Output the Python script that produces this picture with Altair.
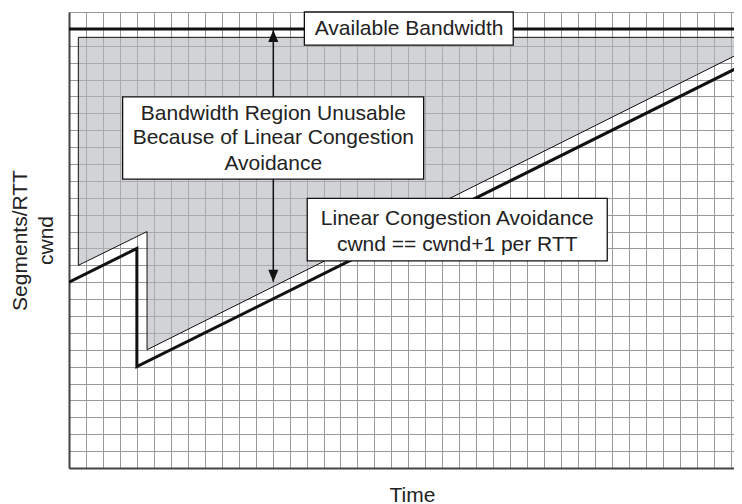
import altair as alt
import pandas as pd

# ---- data (in grid-cell units) ----
cwnd_time = [0, 4, 4.0001, 39.66]
cwnd_value = [11, 13, 6, 23.83]

region_time = [0.55, 4.6, 4.6001, 39.42]
region_low = [12.0, 14.0, 7.0, 24.5]
region_high = [25.5, 25.5, 25.5, 25.5]

bandwidth_time = [0, 39.66]
bandwidth_value = [26, 26]

arrow_x = [12.04]
arrow_low = [11.03]
arrow_high = [25.93]

box_labels = ["Available Bandwidth", "Bandwidth Region", "Linear Congestion"]
box_x = [13.87, 3.16, 14.04]
box_x2 = [26.18, 20.9, 31.72]
box_y = [25.04, 17.11, 12.26]
box_y2 = [27.0, 21.98, 15.97]

text_lines = ["Available Bandwidth",
              "Bandwidth Region Unusable",
              "Because of Linear Congestion",
              "Avoidance",
              "Linear Congestion Avoidance",
              "cwnd == cwnd+1 per RTT"]
text_x = [20.04, 12.04, 12.04, 12.04, 22.88, 22.88]
text_y = [26.0, 20.94, 19.52, 18.0, 14.72, 13.2]

x_ticks = list(range(0, 40))
y_ticks = list(range(0, 28))

FONT = "Liberation Sans"

xs = alt.Scale(domain=[0, 39.19], nice=False, zero=False)
ys = alt.Scale(domain=[0, 27], nice=False, zero=False)

x_axis = alt.Axis(values=x_ticks, title="Time", labels=False, ticks=False,
                  grid=True, titleX=343, titleY=33, titleBaseline="alphabetic",
                  titleAlign="center")
y_axis = alt.Axis(values=y_ticks, title=["Segments/RTT", "cwnd"], labels=False,
                  ticks=False, grid=True, titleAngle=270, titleX=-49, titleY=228,
                  titleBaseline="middle", titleAlign="center", titleLineHeight=26)


def X(field):
    return alt.X(field, scale=xs, axis=x_axis)


def Y(field):
    return alt.Y(field, scale=ys, axis=y_axis)


region_df = pd.DataFrame({"t": region_time, "lo": region_low, "hi": region_high})
region = alt.Chart(region_df).mark_area(
    fill="#b3b5bb", fillOpacity=0.6, stroke="#111", strokeWidth=1, clip=True
).encode(x=X("t:Q"), y=Y("lo:Q"), y2="hi:Q")

bw_df = pd.DataFrame({"t": bandwidth_time, "v": bandwidth_value})
bw = alt.Chart(bw_df).mark_line(color="#111", strokeWidth=3, clip=True).encode(
    x=X("t:Q"), y=Y("v:Q"))

cw_df = pd.DataFrame({"t": cwnd_time, "v": cwnd_value})
cw = alt.Chart(cw_df).mark_line(color="#111", strokeWidth=3, clip=True,
                                strokeJoin="miter").encode(
    x=X("t:Q"), y=Y("v:Q"))

ar_df = pd.DataFrame({"x": arrow_x, "lo": arrow_low, "hi": arrow_high})
arrow = alt.Chart(ar_df).mark_rule(color="#111", strokeWidth=1.5).encode(
    x=X("x:Q"), y=Y("lo:Q"), y2="hi:Q")
head_up = alt.Chart(ar_df).mark_point(
    shape="M0,0 L0.42,1 L-0.42,1 Z", size=576, filled=True, color="#111", opacity=1
).encode(x=X("x:Q"), y=Y("hi:Q"))
head_down = alt.Chart(ar_df).mark_point(
    shape="M0,0 L0.42,-1 L-0.42,-1 Z", size=576, filled=True, color="#111", opacity=1
).encode(x=X("x:Q"), y=Y("lo:Q"))

box_df = pd.DataFrame({"b": box_labels, "x": box_x, "x2": box_x2, "y": box_y, "y2": box_y2})
boxes = alt.Chart(box_df).mark_rect(fill="white", stroke="#111", strokeWidth=1.3).encode(
    x=X("x:Q"), x2="x2:Q", y=Y("y:Q"), y2="y2:Q")

txt_df = pd.DataFrame({"s": text_lines, "x": text_x, "y": text_y})
texts = alt.Chart(txt_df).mark_text(font=FONT, fontSize=21, color="#222",
                                    align="center", baseline="middle").encode(
    x=X("x:Q"), y=Y("y:Q"), text="s:N")

chart = alt.layer(region, bw, cw, arrow, head_up, head_down, boxes, texts).properties(
    width=665, height=456,
    autosize=alt.AutoSizeParams(type="none"),
    padding={"left": 61, "top": 4, "right": 0, "bottom": 36},
).configure_view(stroke=None).configure_axis(
    domain=True, domainColor="#444", domainWidth=2,
    gridColor="#999", gridWidth=1, gridOpacity=1,
    titleFont=FONT, titleFontSize=21, titleFontWeight="normal", titleColor="#222",
)

chart.save("out.html", embed_options={"renderer": "svg", "actions": False})
